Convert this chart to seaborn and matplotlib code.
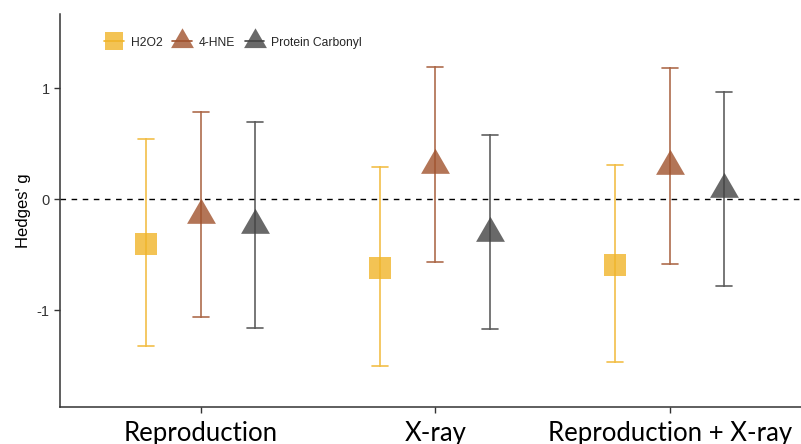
import numpy as np
import pandas as pd
import matplotlib
matplotlib.use("Agg")
import matplotlib.pyplot as plt
from matplotlib.path import Path
from matplotlib.lines import Line2D
import seaborn as sns

# ---- data ----
groups = ["Reproduction", "X-ray", "Reproduction + X-ray"]
markers_names = ["H2O2", "4-HNE", "Protein Carbonyl"]
g_h2o2 = [-0.40, -0.62, -0.59]
lo_h2o2 = [-1.32, -1.50, -1.47]
hi_h2o2 = [0.54, 0.29, 0.31]
g_hne = [-0.14, 0.31, 0.30]
lo_hne = [-1.06, -0.57, -0.58]
hi_hne = [0.79, 1.19, 1.18]
g_pc = [-0.23, -0.30, 0.09]
lo_pc = [-1.16, -1.17, -0.78]
hi_pc = [0.70, 0.58, 0.97]
yticks = [-1, 0, 1]
ytick_labels = ["-1", "0", "1"]
colors = ["#F0B429", "#A0522D", "#444444"]

rows = []
for name, g, lo, hi in [("H2O2", g_h2o2, lo_h2o2, hi_h2o2),
                        ("4-HNE", g_hne, lo_hne, hi_hne),
                        ("Protein Carbonyl", g_pc, lo_pc, hi_pc)]:
    for grp, m, l, h in zip(groups, g, lo, hi):
        for v in (l, m, h):
            rows.append({"group": grp, "marker": name, "value": v})
df = pd.DataFrame(rows)

sns.set_style("white")
plt.rcParams["font.family"] = ["Liberation Sans", "DejaVu Sans"]

fig = plt.figure(figsize=(8.01, 4.44), dpi=100)
ax = fig.add_axes([60 / 801, (444 - 406.7) / 444, 741 / 801, (406.7 - 14) / 444])

# triangle with centroid at the data point (ggplot style)
tri = Path([(0, 1), (-0.866, -0.5), (0.866, -0.5), (0, 1)],
           [Path.MOVETO, Path.LINETO, Path.LINETO, Path.CLOSEPOLY])

ax.axhline(0, color="black", linestyle=(0, (4, 4)), linewidth=1.0, zorder=1)

sns.pointplot(data=df, x="group", y="value", hue="marker",
              order=groups, hue_order=markers_names, palette=colors,
              estimator="median", errorbar=lambda x: (x.min(), x.max()),
              dodge=0.467, linestyle="none", markers=["s", tri, tri],
              capsize=0.068, err_kws={"linewidth": 1.2, "alpha": 0.85},
              ax=ax, legend=False)

# adjust marker sizes/alpha
sizes = {0: 16.5, 1: 24, 2: 24}
k = 0
for ln in ax.lines:
    if ln.get_marker() not in (None, "None", "", " ") and len(ln.get_xdata()) == 3:
        c = colors[k % 3]
        ln.set_markersize(sizes[k % 3])
        ln.set_markerfacecolor(matplotlib.colors.to_rgba(c, 0.8))
        ln.set_markeredgecolor(matplotlib.colors.to_rgba(c, 0.0))
        ln.set_markeredgewidth(0)
        ln.set_zorder(3)
        k += 1

ax.set_xlim(-0.6, 2.56)
ax.set_ylim(-1.87, 1.67)
ax.set_yticks(yticks)
ax.set_yticklabels(ytick_labels)
ax.set_xlabel("")
ax.set_ylabel("Hedges' g", fontsize=12, color="black")
ax.tick_params(axis="y", labelsize=10.5, colors="#333333", length=4, width=1, left=True, labelcolor="#333333")
ax.tick_params(axis="x", labelsize=18.5, length=4, width=1, bottom=True, colors="#333333", labelcolor="black", pad=6.5)
for lab in ax.get_xticklabels():
    lab.set_family(["Lato", "DejaVu Sans"])
sns.despine(ax=ax)
for s in ("left", "bottom"):
    ax.spines[s].set_color("#333333")
    ax.spines[s].set_linewidth(1.1)

# legend like ggplot (marker with line through)
handles = []
for name, c, m, ms in zip(markers_names, colors, ["s", tri, tri], [13, 19, 19]):
    handles.append(Line2D([0], [0], color=c, linewidth=1.2, marker=m, markersize=ms,
                          markerfacecolor=matplotlib.colors.to_rgba(c, 0.8),
                          markeredgewidth=0))
leg = ax.legend(handles, markers_names, loc="upper left", bbox_to_anchor=(0.045, 0.97),
                ncol=3, frameon=False, fontsize=8.7, handlelength=1.6,
                columnspacing=0.8, handletextpad=0.6)

fig.savefig("out.png", dpi=100)
